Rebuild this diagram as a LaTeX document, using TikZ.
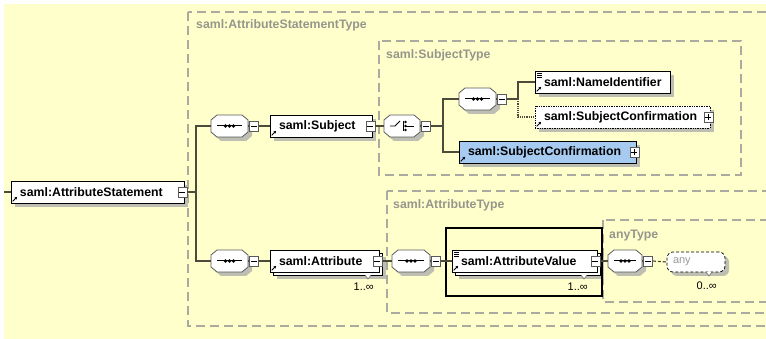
\documentclass[tikz,border=0pt]{standalone}
\usepackage{fontspec}
\setmainfont{Liberation Sans}
\usetikzlibrary{calc,shadows,arrows.meta}
\definecolor{bgyellow}{RGB}{255,255,204}
\definecolor{dashgray}{RGB}{170,170,160}
\definecolor{lblgray}{RGB}{150,150,140}
\definecolor{conn}{RGB}{75,75,60}
\definecolor{shadowc}{RGB}{190,190,178}
\definecolor{selblue}{RGB}{166,202,240}
\definecolor{pmgray}{RGB}{90,90,90}
\tikzset{
  typebox/.style={draw=dashgray, line width=1.3pt, dash pattern=on 9pt off 5pt},
  typelabel/.style={text=lblgray, font=\fontsize{12.3}{14}\selectfont\bfseries, anchor=west, inner sep=0pt},
  elem/.style={draw=black, line width=0.7pt, fill=white, inner sep=0pt, minimum height=22pt,
     font=\fontsize{12.3}{14}\selectfont\bfseries, align=left,
     general shadow={fill=shadowc, shadow xshift=4pt, shadow yshift=-4pt}},
  elemmulti/.style={draw=black, line width=0.7pt, fill=white, inner sep=0pt, minimum height=22pt,
     font=\fontsize{12.3}{14}\selectfont\bfseries, align=left,
     general shadow={fill=shadowc, shadow xshift=7pt, shadow yshift=-7pt},
     copy shadow={shadow xshift=3pt, shadow yshift=-3pt}},
  pmbox/.style={draw=pmgray, fill=white, minimum width=9pt, minimum height=10pt, inner sep=0pt, line width=0.6pt},
  compbase/.style={inner sep=0pt, minimum height=22pt},
  connline/.style={draw=conn, line width=1.2pt},
  multlabel/.style={font=\fontsize{11}{12}\selectfont, anchor=east, inner sep=0pt},
  anynode/.style={draw=black, densely dashed, line width=0.7pt, fill=white, rounded corners=6pt,
     inner sep=0pt, minimum height=20pt, text=black!40, font=\fontsize{11}{13}\selectfont, align=left,
     general shadow={fill=shadowc, shadow xshift=4pt, shadow yshift=-4pt}},
  selbox/.style={draw=black, line width=1.8pt}
}
% element: [opts]{name}{x1}{x2}{yc}{text}
\newcommand\xelem[6][elem]{%
  \pgfmathsetmacro\ew{#4-#3}%
  \pgfmathsetmacro\ec{(#3+#4)/2}%
  \node[#1,minimum width=\ew pt,text width=\ew pt] (#2) at (\ec,#5) {\hspace*{9pt}#6};
  \draw[line width=0.9pt,-{Stealth[length=2.6pt,width=2.8pt]}] ($(#2.south west)+(2,-2)$) -- ++(4.5,-4.5);
}
\newcommand\xminus[1]{%
  \node[pmbox] (#1-s) at ($(#1.east)+(-2,0)$) {};
  \draw[line width=0.8pt] ($(#1-s.center)+(-3,0)$) -- ($(#1-s.center)+(3,0)$);
}
\newcommand\xplus[1]{%
  \xminus{#1}%
  \draw[line width=0.8pt] ($(#1-s.center)+(0,-3)$) -- ($(#1-s.center)+(0,3)$);
}
\newcommand\xsimple[1]{%
  \foreach \dy in {2.5,4.5,6.5}
    \draw[line width=0.5pt] ($(#1.north west)+(2.5,\dy)$) -- ++(5,0);
}
\newcommand\xnotch[2]{% x, y
  \draw[fill=white, draw=pmgray, line width=0.5pt] (#1-3,#2) -- (#1,#2+4) -- (#1+3,#2);
}
% compositor: {name}{x1}{x2}{yc}{s|c}
\newcommand\xcomp[5]{%
  \pgfmathsetmacro\cw{#3-#2}%
  \pgfmathsetmacro\cc{(#2+#3)/2}%
  \node[compbase, minimum width=\cw pt] (#1) at (\cc,#4) {};
  \fill[shadowc] (#2+4,#4-2) -- (#2+10,#4-7) -- (#3-2,#4-7) -- (#3+4,#4-2)
     -- (#3+4,#4+10) -- (#3-2,#4+15) -- (#2+10,#4+15) -- (#2+4,#4+10) -- cycle;
  \draw[fill=white, draw=pmgray, line width=0.8pt] (#2,#4-6) -- (#2+6,#4-11) -- (#3-6,#4-11) -- (#3,#4-6)
     -- (#3,#4+6) -- (#3-6,#4+11) -- (#2+6,#4+11) -- (#2,#4+6) -- cycle;
  \if#5s
    \draw[line width=1pt] (#2+6,#4) -- (#3-6,#4);
    \foreach \d in {-4,0,4} \fill (\cc+\d,#4) circle (1.9);
  \else
    \draw[line width=0.9pt] (\cc-12,#4) -- (\cc-7,#4) -- (\cc-2,#4-5);
    \draw[line width=0.9pt] (\cc+1,#4-5) -- (\cc+1,#4+5);
    \foreach \d in {-4,0,4} \fill (\cc+3.5,#4+\d) circle (1.3);
    \draw[line width=0.9pt] (\cc+4,#4) -- (\cc+12,#4);
  \fi
  \node[pmbox] (#1-s) at (#3+6,#4) {};
  \draw[line width=0.8pt] ($(#1-s.center)+(-3,0)$) -- ($(#1-s.center)+(3,0)$);
  \draw[connline] (#1.east) -- (#1-s.west);
}
\begin{document}
\begin{tikzpicture}[x=1pt,y=-1pt]
\useasboundingbox (0,0) rectangle (766,339);
\begin{scope}
\clip (0,0) rectangle (766,339);
\fill[white] (0,0) rectangle (766,339);
\fill[bgyellow] (4,4) rectangle (766,339);
% type boxes
\draw[typebox] (188,12) rectangle (800,326);
\node[typelabel] (tAST) at (196,25) {saml:AttributeStatementType};
\draw[typebox] (379,41) rectangle (741,175);
\node[typelabel] (tST) at (386,55) {saml:SubjectType};
\draw[typebox] (387,191) rectangle (800,313);
\node[typelabel] (tAT) at (393,205) {saml:AttributeType};
\draw[typebox] (603,220) rectangle (800,302);
\node[typelabel] (tany) at (609,236) {anyType};
% elements
\xelem{stmt}{11}{184}{192}{saml:AttributeStatement}\xminus{stmt}
\xcomp{seq1}{211}{248}{126}{s}
\xelem{subj}{270}{372}{126}{saml:Subject}\xminus{subj}
\xcomp{choice}{384}{420}{126}{c}
\xcomp{seq2}{459}{496}{99}{s}
\xelem{nameid}{535}{670}{82}{saml:NameIdentifier}\xsimple{nameid}
\xelem[elem,densely dotted]{sc1}{535}{710}{117}{saml:SubjectConfirmation}\xplus{sc1}
\xelem[elem,fill=selblue]{sc2}{459}{636}{152}{saml:SubjectConfirmation}\xplus{sc2}
\xcomp{seq3}{211}{248}{261}{s}
\xelem[elemmulti]{attr}{270}{379}{261}{saml:Attribute}\xminus{attr}
\xnotch{368}{275}
\node[multlabel] (m1) at (374,287) {1..∞};
\xcomp{seq4}{392}{430}{261}{s}
\xelem[elemmulti]{attrval}{452}{597}{261}{saml:AttributeValue}\xminus{attrval}\xsimple{attrval}
\xnotch{584}{275}
\node[multlabel] (m2) at (588,287) {1..∞};
\xcomp{seq5}{608}{642}{261}{s}
\node[anynode, minimum width=58pt, text width=58pt] (any) at (696,262) {\hspace*{6pt}any};
\xnotch{709}{272}
\node[multlabel] (m3) at (717,286) {0..∞};
% selection
\draw[selbox] (446,228) rectangle (602,296);
% connectors
\coordinate (in) at (4,192);
\draw[connline] (in) -- (stmt.west);
\coordinate (j1) at (196,192);
\draw[connline] (stmt-s.east) -- (j1);
\draw[connline] (seq1.west) -| (j1) |- (seq3.west);
\draw[connline] (seq1-s.east) -- (subj.west);
\draw[connline] (subj-s.east) -- (choice.west);
\coordinate (j2) at (443,126);
\draw[connline] (choice-s.east) -- (j2);
\draw[connline] (seq2.west) -| (j2) |- (sc2.west);
\coordinate (j3) at (518,99);
\draw[connline] (seq2-s.east) -- (j3);
\draw[connline] (nameid.west) -| (j3);
\draw[connline, densely dotted] (j3) |- (sc1.west);
\draw[connline] (seq3-s.east) -- (attr.west);
\draw[connline] (attr-s.east) -- (seq4.west);
\draw[connline] (seq4-s.east) -- (attrval.west);
\draw[connline] (attrval-s.east) -- (seq5.west);
\draw[connline, densely dashed] (seq5-s.east) -- (any.west);
\end{scope}
\end{tikzpicture}
\end{document}
